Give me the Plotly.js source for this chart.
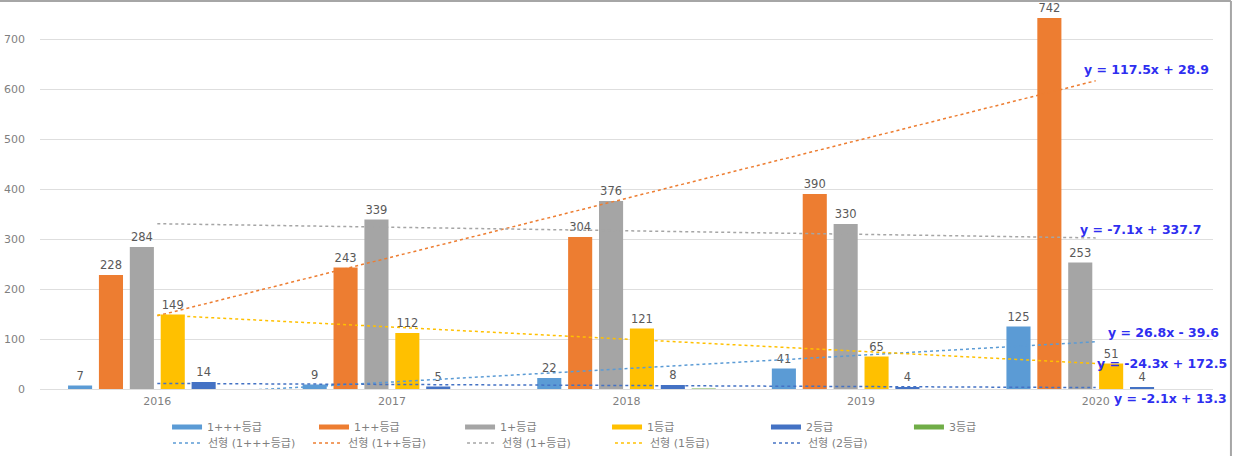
<!DOCTYPE html>
<html>
<head>
<meta charset="utf-8">
<script src="https://cdn.plot.ly/plotly-3.0.1.min.js"></script>
<style>html,body{margin:0;padding:0;background:#fff;}#chart{width:1233px;height:456px;}</style>
</head>
<body>
<div id="chart"></div>
<script>
// ---- data ----
const years = ["2016", "2017", "2018", "2019", "2020"];
const seriesNames = ["1+++등급", "1++등급", "1+등급", "1등급", "2등급", "3등급"];
const g1ppp = [7, 9, 22, 41, 125];
const g1pp = [228, 243, 304, 390, 742];
const g1p = [284, 339, 376, 330, 253];
const g1 = [149, 112, 121, 65, 51];
const g2 = [14, 5, 8, 4, 4];
const g3 = [0, 0, 1, 0, 0];
const trendNames = ["선형 (1+++등급)", "선형 (1++등급)", "선형 (1+등급)", "선형 (1등급)", "선형 (2등급)"];

// ---- styling ----
const colors = ["#5B9BD5", "#ED7D31", "#A5A5A5", "#FFC000", "#4472C4", "#70AD47"];
const seriesValues = [g1ppp, g1pp, g1p, g1, g2, g3];
const FONT = "'DejaVu Sans', 'Noto Sans CJK KR', sans-serif";
// legend placement: x in paper coords, y in container coords
const legRow1X = [0.1083, 0.2336, 0.3581, 0.4834, 0.6189, 0.7408];
const legRow2X = [0.1091, 0.2285, 0.3598, 0.4859, 0.6206];
const legRow1Y = 0.0636, legRow2Y = 0.0285;

// Excel-style linear trendline (x = 1..n)
function linReg(vals) {
  const n = vals.length;
  const xs = vals.map((_, i) => i + 1);
  const mx = xs.reduce((a, b) => a + b, 0) / n;
  const my = vals.reduce((a, b) => a + b, 0) / n;
  let sxy = 0, sxx = 0;
  for (let i = 0; i < n; i++) { sxy += (xs[i] - mx) * (vals[i] - my); sxx += (xs[i] - mx) ** 2; }
  const m = sxy / sxx;
  const b = my - m * mx;
  return { m: m, b: b, fit: xs.map(x => m * x + b) };
}

const traces = [];
const layoutLegends = {};
let legCount = 0;
function legendId() { legCount++; return legCount === 1 ? "legend" : "legend" + legCount; }
function makeLegend(x, y) {
  return {
    orientation: "h", xref: "paper", x: x, xanchor: "left",
    yref: "container", y: y, yanchor: "middle",
    bgcolor: "rgba(0,0,0,0)", borderwidth: 0,
    font: { size: 11, color: "#7f7f7f", family: FONT }
  };
}

// bars
seriesValues.forEach((vals, i) => {
  traces.push({
    type: "bar", x: years, y: vals, name: seriesNames[i],
    marker: { color: colors[i] },
    text: vals.map(v => (i === 5 ? "" : String(v))),
    textposition: "outside", cliponaxis: false, constraintext: "none",
    textfont: { size: 11.5, color: "#595959", family: FONT },
    showlegend: false, hoverinfo: "x+y+name"
  });
});
// legend keys for bar series (line-style keys, as in the original)
seriesNames.forEach((nm, i) => {
  const id = legendId();
  layoutLegends[id] = makeLegend(legRow1X[i], legRow1Y);
  traces.push({
    type: "scatter", mode: "lines", x: [null], y: [null], name: nm,
    line: { color: colors[i], width: 5 }, legend: id, hoverinfo: "skip"
  });
});
// trendlines
const trendSeries = [g1ppp, g1pp, g1p, g1, g2];
const regs = trendSeries.map(linReg);
regs.forEach((r, i) => {
  const id = legendId();
  layoutLegends[id] = makeLegend(legRow2X[i], legRow2Y);
  traces.push({
    type: "scatter", mode: "lines", x: years, y: r.fit, name: trendNames[i],
    line: { color: colors[i], width: 1.5, dash: "dot" }, legend: id, hoverinfo: "skip"
  });
});

function eqText(r) {
  const sign = r.b < 0 ? "- " : "+ ";
  return "y = " + r.m.toFixed(1) + "x " + sign + Math.abs(r.b).toFixed(1);
}
// equation label positions, order: 1+++, 1++, 1+, 1, 2
const eqXY = [[0.958, 0.150], [0.943, 0.842], [0.9386, 0.421], [0.9565, 0.0658], [0.964, -0.0263]];
const annotations = regs.map((r, i) => ({
  xref: "paper", yref: "paper", x: eqXY[i][0], y: eqXY[i][1],
  text: "<b>" + eqText(r) + "</b>", showarrow: false,
  xanchor: "center", yanchor: "middle",
  font: { size: 12.5, color: "#2E2EF0", family: "'DejaVu Sans', sans-serif" }
}));

const layout = Object.assign({
  width: 1233, height: 456,
  margin: { l: 40, r: 20, t: 9, b: 67 },
  paper_bgcolor: "#ffffff", plot_bgcolor: "#ffffff",
  font: { family: FONT, color: "#7f7f7f", size: 11 },
  barmode: "group", bargap: 0.21, bargroupgap: 0.22,
  xaxis: {
    type: "category", showgrid: false, zeroline: false, showline: false,
    ticks: "", ticklabelstandoff: 4, tickfont: { size: 11, color: "#7f7f7f", family: FONT }
  },
  yaxis: {
    range: [0, 760], dtick: 100, tick0: 0, showgrid: true, gridcolor: "#dedede", gridwidth: 1,
    zeroline: true, zerolinecolor: "#dedede", zerolinewidth: 1, showline: false,
    ticks: "", ticklabelstandoff: 14, tickfont: { size: 11, color: "#7f7f7f", family: FONT }
  },
  annotations: annotations,
  shapes: [
    { type: "line", xref: "paper", yref: "paper", x0: -0.0341, x1: 1.0153, y0: 1.021, y1: 1.021, line: { color: "#a6a6a6", width: 2 } },
    { type: "line", xref: "paper", yref: "paper", x0: 1.0153, x1: 1.0153, y0: 1.021, y1: -0.18, line: { color: "#a6a6a6", width: 2 } }
  ],
  showlegend: true
}, layoutLegends);

Plotly.newPlot("chart", traces, layout, { displayModeBar: false, staticPlot: true });
</script>
</body>
</html>
